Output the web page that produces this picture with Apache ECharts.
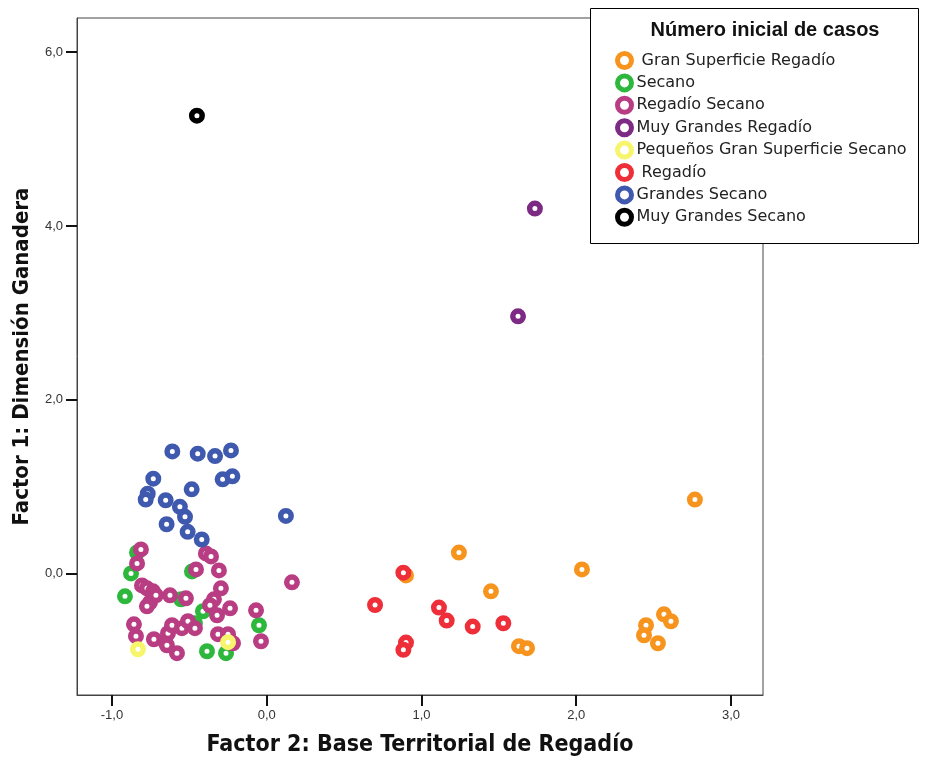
<!DOCTYPE html>
<html>
<head>
<meta charset="utf-8">
<script src="https://cdn.jsdelivr.net/npm/echarts@6/dist/echarts.min.js"></script>
<style>html,body{margin:0;padding:0;background:#fff;}#c{width:926px;height:762px;}</style>
</head>
<body>
<div id="c"></div>
<script>
const seriesNames = [' Gran Superficie Regadío', 'Secano', 'Regadío Secano', 'Muy Grandes Regadío', 'Pequeños Gran Superficie Secano', ' Regadío', 'Grandes Secano', 'Muy Grandes Secano'];
const seriesColors = ['#F7941E', '#2DB83D', '#B83D82', '#7D2A84', '#F7F56B', '#EE2F3A', '#3F59AE', '#000000'];
const xTicks = [-1, 0, 1, 2, 3];
const yTicks = [0, 2, 4, 6];

const granSuperficieRegadio = [[2.767,0.85],[1.242,0.24],[2.037,0.046],[1.449,-0.207],[0.900,-0.023],[1.630,-0.838],[1.682,-0.861],[2.567,-0.471],[2.612,-0.551],[2.451,-0.597],[2.438,-0.712],[2.528,-0.804]];
const secano = [[-0.838,0.241],[-0.877,0.0],[-0.916,-0.264],[-0.483,0.023],[-0.554,-0.299],[-0.412,-0.436],[-0.050,-0.597],[-0.386,-0.896],[-0.263,-0.918],[-0.464,-0.574]];
const regadioSecano = [[-0.813,0.276],[-0.838,0.115],[-0.393,0.230],[-0.360,0.195],[-0.457,0.046],[-0.309,0.034],[-0.806,-0.138],[-0.774,-0.172],[-0.735,-0.207],[-0.754,-0.333],[-0.774,-0.379],[-0.716,-0.253],[-0.625,-0.253],[-0.522,-0.287],[-0.296,-0.172],[-0.341,-0.299],[-0.367,-0.367],[-0.321,-0.482],[-0.237,-0.402],[-0.069,-0.425],[0.163,-0.103],[-0.037,-0.781],[-0.858,-0.586],[-0.845,-0.723],[-0.729,-0.758],[-0.658,-0.781],[-0.638,-0.689],[-0.612,-0.597],[-0.645,-0.827],[-0.580,-0.918],[-0.548,-0.631],[-0.509,-0.551],[-0.464,-0.631],[-0.315,-0.700],[-0.250,-0.700],[-0.218,-0.804]];
const muyGrandesRegadio = [[1.733,4.20],[1.624,2.96]];
const pequenosGranSuperficieSecano = [[-0.832,-0.873],[-0.250,-0.792]];
const regadio = [[0.883,0.008],[0.700,-0.364],[1.113,-0.394],[1.163,-0.543],[1.331,-0.612],[1.529,-0.574],[0.900,-0.796],[0.883,-0.880]];
const grandesSecano = [[-0.610,1.404],[-0.446,1.378],[-0.334,1.351],[-0.231,1.416],[-0.733,1.091],[-0.285,1.083],[-0.222,1.117],[-0.485,0.968],[-0.769,0.918],[-0.782,0.850],[-0.653,0.842],[-0.561,0.766],[-0.528,0.651],[-0.647,0.566],[-0.511,0.478],[-0.420,0.390],[0.124,0.662]];
const muyGrandesSecano = [[-0.451,5.27]];

const allData = [granSuperficieRegadio, secano, regadioSecano, muyGrandesRegadio, pequenosGranSuperficieSecano, regadio, grandesSecano, muyGrandesSecano];

const fmt = v => v.toFixed(1).replace('.', ',');
const chart = echarts.init(document.getElementById('c'), null, {renderer: 'canvas'});

const axisCommon = {
  type: 'value',
  splitLine: {show: false},
  axisLine: {show: true, onZero: false, lineStyle: {color: '#444', width: 1}},
  axisTick: {show: true, length: 11, lineStyle: {color: '#111', width: 2}},
  axisLabel: {color: '#333', fontSize: 13, fontFamily: 'Liberation Sans, Arial, sans-serif', margin: 14, formatter: fmt},
  nameLocation: 'middle',
  nameTextStyle: {fontSize: 23, fontWeight: 'bold', color: '#111', fontFamily: "'Liberation Sans Narrow', 'DejaVu Sans Condensed', sans-serif"}
};

chart.setOption({
  animation: false,
  backgroundColor: '#fff',
  grid: {left: 77, top: 18, width: 686, height: 679, show: true, borderColor: '#444', borderWidth: 1, containLabel: false},
  xAxis: Object.assign({}, axisCommon, {
    min: -1.226, max: 3.207,
    name: 'Factor 2: Base Territorial de Regadío', nameGap: 39,
    axisTick: Object.assign({}, axisCommon.axisTick, {customValues: xTicks}),
    axisLabel: Object.assign({}, axisCommon.axisLabel, {customValues: xTicks})
  }),
  yAxis: Object.assign({}, axisCommon, {
    min: -1.40, max: 6.394,
    name: 'Factor 1: Dimensión Ganadera', nameGap: 44,
    nameTextStyle: Object.assign({}, axisCommon.nameTextStyle, {fontSize: 22}),
    axisTick: Object.assign({}, axisCommon.axisTick, {customValues: yTicks}),
    axisLabel: Object.assign({}, axisCommon.axisLabel, {customValues: yTicks})
  }),
  legend: {
    orient: 'vertical', left: 615, top: 51, padding: 0,
    itemWidth: 14, itemHeight: 14, itemGap: 3.4, itemTextGap: 8,
    icon: 'circle',
    itemStyle: {borderWidth: 5},
    textStyle: {fontSize: 16, lineHeight: 16, color: '#222', fontFamily: 'DejaVu Sans, sans-serif'},
    selectedMode: false,
    data: seriesNames,
    z: 10
  },
  graphic: [
    {type: 'rect', z: 5, shape: {x: 590.5, y: 8.5, width: 328, height: 235}, style: {fill: '#fff', stroke: '#000', lineWidth: 1}},
    {type: 'text', z: 6, x: 765, y: 30, style: {text: 'Número inicial de casos', fill: '#111', font: 'bold 20px "Liberation Sans", Arial, sans-serif', textAlign: 'center', textVerticalAlign: 'middle'}}
  ],
  series: seriesNames.map((n, i) => ({
    name: n, type: 'scatter', data: allData[i],
    symbol: 'circle', symbolSize: 10.5,
    itemStyle: {color: '#fff', borderColor: seriesColors[i], borderWidth: 5.5, opacity: 1},
    emphasis: {disabled: true}
  }))
});
</script>
</body>
</html>
